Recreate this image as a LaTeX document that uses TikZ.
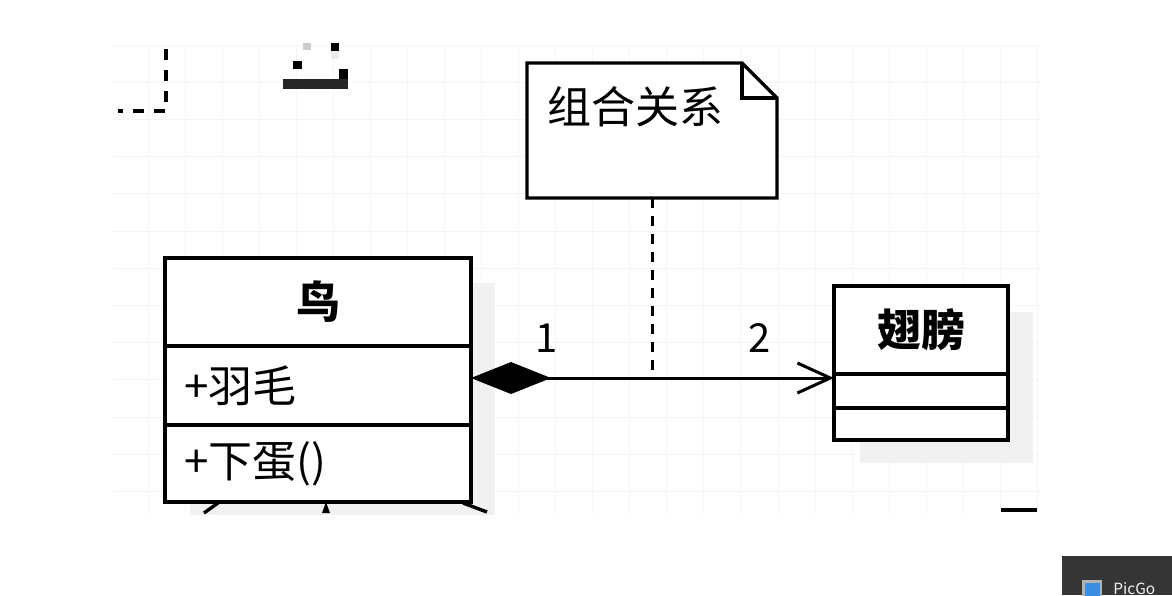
\documentclass[tikz,border=0pt]{standalone}
\usepackage{fontspec}
\setmainfont{Noto Sans CJK SC}
\usetikzlibrary{positioning,arrows.meta}

\definecolor{taskbar}{HTML}{353535}
\definecolor{picblue}{HTML}{3C8EE0}

\tikzset{
    gridline/.style={
        draw=gray!8,
        line width=.5pt
    },
    umlpart/.style={
        draw,
        fill=white,
        line width=1.7pt,
        inner sep=0pt,
        outer sep=0pt
    },
    classtitle/.style={
        umlpart,
        font=\fontsize{22pt}{26pt}\selectfont\bfseries
    },
    member/.style={
        umlpart,
        align=left,
        text width=134pt,
        inner xsep=9.5pt,
        font=\fontsize{22pt}{26pt}\selectfont
    },
    notebox/.style={
        inner sep=0pt,
        outer sep=0pt,
        minimum width=125pt,
        minimum height=67.5pt
    },
    shade/.style={
        fill=gray!11,
        draw=none
    },
    compose/.style={
        line width=1.5pt,
        {Diamond[length=40pt,width=16pt]}-{Straight Barb[length=16.5pt,width=15pt]}
    },
    notelink/.style={
        line width=1.5pt,
        dash pattern=on 5pt off 4pt
    },
    mult/.style={
        inner sep=0pt,
        font=\fontsize{20pt}{24pt}\selectfont
    }
}

\begin{document}
\begin{tikzpicture}[x=.5pt, y=-.5pt]
    \useasboundingbox (0,0) rectangle (1172,595);
    \fill[white] (0,0) rectangle (1172,595);

    % Raster der Zeichenflaeche
    \foreach \i in {0,...,24}
        \draw[gridline] ({148+37.06*\i},45) -- ({148+37.06*\i},515);
    \foreach \j in {0,...,12}
        \draw[gridline] (113,{45+37.2*\j}) -- (1040,{45+37.2*\j});

    % Reste am oberen Rand
    \draw[line width=1.7pt, dash pattern=on 5.5pt off 5pt, dash phase=3pt]
        (118,111) -- (166,111) -- (166,45);
    \fill[gray!40]  (303,43) rectangle (311,50);
    \fill           (331,43) rectangle (339,51);
    \fill[gray!15]  (331,51) rectangle (339,59);
    \fill           (293,61) rectangle (302,69);
    \fill[black!85] (283,79) rectangle (348,89);
    \fill           (339,69) rectangle (348,79);

    % Schatten der Klassen
    \path[shade] (190,283) rectangle (495,515);
    \path[shade] (860,312) rectangle (1033,463);

    % Klasse Vogel
    \node[classtitle, minimum width=153pt, minimum height=44pt] at (318,302) (bird) {鸟};
    \node[member, minimum height=39.5pt, below=0pt of bird]     (birdattr) {+羽毛};
    \node[member, minimum height=38.5pt, below=0pt of birdattr] (birdop)   {+下蛋()};

    % Klasse Fluegel
    \node[classtitle, minimum width=87pt, minimum height=44pt] at (921,330) (wing) {翅膀};
    \node[umlpart, minimum width=87pt, minimum height=17pt, below=0pt of wing]     (wingattr) {};
    \node[umlpart, minimum width=87pt, minimum height=16pt, below=0pt of wingattr] (wingop)   {};

    % Notiz mit Eselsohr
    \node[notebox] at (652,130.5) (note) {};
    \draw[line width=1.7pt, fill=white]
        (note.south west) -- (note.north west)
        -- ([xshift=-17.5pt]note.north east)
        -- ([yshift=-17.5pt]note.north east)
        -- (note.south east) -- cycle;
    \draw[line width=1.7pt]
        ([xshift=-17.5pt]note.north east) |- ([yshift=-17.5pt]note.north east);
    \node[anchor=west, inner sep=0pt, font=\fontsize{22pt}{26pt}\selectfont]
        at ([xshift=10pt,yshift=-22pt]note.north west) (notelabel) {组合关系};

    % Komposition Vogel -- Fluegel
    \coordinate (from) at ([yshift=3.75pt]birdattr.east);
    \coordinate (to)   at (from -| wing.west);
    \draw[compose] (from) -- (to);
    \draw[notelink] (note.south) -- (note.south |- from);

    \node[mult] at (547,338) (multbird) {1};
    \node[mult] at (760,338) (multwing) {2};

    % abgeschnittene Pfeilspitzen unten
    \draw[line width=1.7pt] (218,503) -- (204,513);
    \fill (326,502) -- (322,513) -- (330,513) -- cycle;
    \draw[line width=1.7pt] (463,503) -- (487,512);
    \draw[line width=2pt] (1001,510) -- (1037,510);

    % Taskleiste
    \fill[taskbar] (1062,556) rectangle (1172,595);
    \fill[gray!60] (1082,580) rectangle (1102,596);
    \fill[picblue] (1084.5,582.5) rectangle (1099.5,596);
    \node[anchor=base west, inner sep=0pt, text=gray!10,
          font=\fontsize{7.7pt}{9pt}\selectfont] at (1113,594) (picgo) {PicGo};
\end{tikzpicture}
\end{document}
